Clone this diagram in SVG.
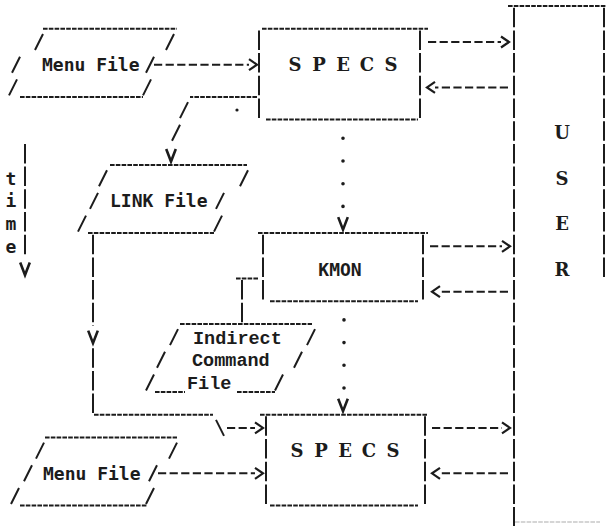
<svg xmlns="http://www.w3.org/2000/svg" xmlns:xlink="http://www.w3.org/1999/xlink" width="606" height="526" viewBox="0 0 606 526">
<style>
  .ln{fill:none;stroke:#1c1c1c;stroke-width:2}
  .u{stroke-dasharray:4.6 1.2}
  .b{stroke-dasharray:19.5 3.2}
  .d{stroke-dasharray:8.2 3.4}
  .dots{fill:none;stroke:#1c1c1c;stroke-width:3.6;stroke-linecap:round;stroke-dasharray:0 22.7 0 22.7 0 22.7 0 300}
  .sans{font-family:"DejaVu Sans Mono","Liberation Mono",monospace;font-size:18px;font-weight:bold;fill:#1c1c1c}
  .mono{font-family:"Liberation Mono","DejaVu Sans Mono",monospace;font-size:18.5px;font-weight:bold;fill:#1c1c1c}
  .serif{font-family:"DejaVu Serif","Liberation Serif",serif;font-size:18px;font-weight:bold;fill:#1c1c1c;text-anchor:middle}
</style>
<defs>
  <marker id="ah" viewBox="-1 -7 11 14" refX="0" refY="0" markerWidth="11" markerHeight="14" orient="auto" markerUnits="userSpaceOnUse">
    <path d="M0,-5.5 L8,0 L0,5.5" fill="none" stroke="#1c1c1c" stroke-width="2.2"/>
  </marker>
  <path id="vh" d="M-4.8,-6.5 L0,6 L4.8,-6.5" fill="none" stroke="#1c1c1c" stroke-width="2.6"/>
</defs>
<rect width="606" height="526" fill="#ffffff"/>

<g id="menu-file-1">
  <path class="ln u" d="M43 28.8 H177 M20 96.9 H143"/>
  <path class="ln" d="M35 50 l8 -16 M166 50 l8 -16 M12 72.7 l8 -16 M146 72.7 l8 -16 M9 95.4 l8 -16 M143 95.4 l8 -16"/>
  <text class="sans" x="42" y="71.2">Menu File</text>
</g>

<g id="specs-1">
  <path class="ln u" d="M262 28.8 H428 M266 119.6 H418"/>
  <path class="ln b" d="M259 30.4 V119.6 M420 30.4 V119.6"/>
  <text class="serif" y="71.2"><tspan x="295">S</tspan><tspan x="319">P</tspan><tspan x="343">E</tspan><tspan x="367">C</tspan><tspan x="391">S</tspan></text>
</g>

<g id="user">
  <path class="ln u" d="M508 6.1 H606"/>
  <path class="ln b" d="M514 7.7 V526 M604 7.7 V278.5"/>
  <path d="M515 522 H600" fill="none" stroke="#c8c8c8" stroke-width="1.5" stroke-dasharray="4.6 1.2"/>
  <text class="serif" x="562" y="139.3">U</text>
  <text class="serif" x="562" y="184.7">S</text>
  <text class="serif" x="562" y="230.1">E</text>
  <text class="serif" x="562" y="275.5">R</text>
</g>

<g id="link-file">
  <path class="ln u" d="M110 165 H247 M88 233.1 H214"/>
  <path class="ln" d="M99 186.2 l8 -16 M240 186.2 l8 -16 M90 208.9 l8 -16 M216 208.9 l8 -16 M78 231.6 l8 -16 M214 231.6 l8 -16"/>
  <text class="sans" x="110" y="207.4">LINK File</text>
</g>

<g id="kmon">
  <path class="ln u" d="M258 233.1 H428 M270 301.2 H418"/>
  <path class="ln b" d="M263 234.7 V301.2 M423 234.7 V301.2"/>
  <text class="sans" x="340" y="275.5" text-anchor="middle">KMON</text>
</g>

<g id="indirect-command-file">
  <path class="ln u" d="M180 323.9 H312 M155 392 H185 M237 392 H275"/>
  <path class="ln" d="M170 345.1 l8 -16 M307 345.1 l8 -16 M157 367.8 l8 -16 M294 367.8 l8 -16 M146 390.5 l8 -16 M275 390.5 l8 -16"/>
  <text class="mono" x="193" y="343.6">Indirect</text>
  <text class="mono" x="192" y="366.3">Command</text>
  <text class="mono" x="187" y="389">File</text>
</g>

<g id="menu-file-2">
  <path class="ln u" d="M45 437.4 H177 M20 505.5 H147"/>
  <path class="ln" d="M36 458.6 l8 -16 M169 458.6 l8 -16 M24 481.3 l8 -16 M149 481.3 l8 -16 M11 504 l8 -16 M146 504 l8 -16"/>
  <text class="sans" x="43" y="479.8">Menu File</text>
</g>

<g id="specs-2">
  <path class="ln u" d="M260 414.7 H428 M270 505.5 H418"/>
  <path class="ln b" d="M266 416.3 V505.5 M425 416.3 V505.5"/>
  <text class="serif" y="457.1"><tspan x="297">S</tspan><tspan x="321">P</tspan><tspan x="345">E</tspan><tspan x="369">C</tspan><tspan x="393">S</tspan></text>
</g>

<g id="time-axis">
  <path class="ln b" d="M25 143.9 V256"/>
  <use xlink:href="#vh" href="#vh" x="25" y="269"/>
  <text class="sans" x="11" y="184.7" text-anchor="middle">t</text>
  <text class="sans" x="11" y="207.4" text-anchor="middle">i</text>
  <text class="sans" x="11" y="230.1" text-anchor="middle">m</text>
  <text class="sans" x="11" y="252.8" text-anchor="middle">e</text>
</g>

<g id="connectors">
  <path class="ln d" d="M154 64.7 H249" marker-end="url(#ah)"/>
  <path class="ln d" d="M428 42 H501" marker-end="url(#ah)"/>
  <path class="ln d" d="M508 87.4 H435" marker-end="url(#ah)"/>
  <g id="c-specs1-link">
    <path class="ln u" d="M257 96.9 H190"/>
    <path class="ln" d="M180 118.1 l8 -16 M172 140.8 l8 -16"/>
    <use xlink:href="#vh" href="#vh" x="171" y="155.5"/>
  </g>
  <circle cx="237" cy="110" r="1.6" fill="#1c1c1c"/>
  <g id="c-specs1-kmon">
    <path class="dots" d="M343 138.3 V230"/>
    <use xlink:href="#vh" href="#vh" x="343" y="223.6"/>
  </g>
  <g id="c-link-specs2">
    <path class="ln b" d="M93 234.7 V326 M93 348.2 V414.7"/>
    <use xlink:href="#vh" href="#vh" x="93" y="337.1"/>
    <path class="ln u" d="M94 414.7 H213"/>
    <path class="ln" d="M216 419.9 l8 16"/>
    <path class="ln d" d="M227 427.9 H255" marker-end="url(#ah)"/>
  </g>
  <path class="ln d" d="M430 246.3 H502" marker-end="url(#ah)"/>
  <path class="ln d" d="M508 291.7 H440" marker-end="url(#ah)"/>
  <g id="c-kmon-indirect">
    <path class="ln u" d="M258 278.5 H236"/>
    <path class="ln b" d="M242 280.1 V323.9"/>
  </g>
  <g id="c-kmon-specs2">
    <path class="dots" d="M344 319.9 V400"/>
    <use xlink:href="#vh" href="#vh" x="343" y="405.2"/>
  </g>
  <path class="ln d" d="M158 473.3 H255" marker-end="url(#ah)"/>
  <path class="ln d" d="M432 427.9 H502" marker-end="url(#ah)"/>
  <path class="ln d" d="M508 473.3 H440" marker-end="url(#ah)"/>
</g>
</svg>
